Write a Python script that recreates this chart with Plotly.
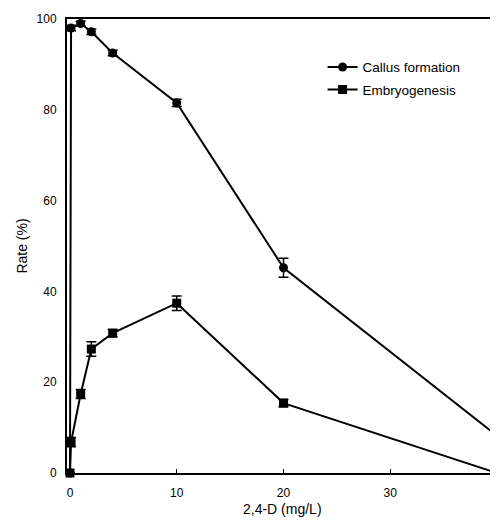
import plotly.graph_objects as go

conc = [0, 0.1, 1, 2, 4, 10, 20, 40]
callus = [0, 98, 99, 97.2, 92.5, 81.5, 45.2, 8.2]
callus_err = [0, 0.6, 0.5, 0.6, 0.6, 0.8, 2.1, 1.0]
embryo = [0, 6.8, 17.4, 27.3, 30.8, 37.4, 15.4, 0]
embryo_err = [0, 1.0, 1.0, 1.6, 0.8, 1.6, 0.8, 0]

y_ticks = [0, 20, 40, 60, 80, 100]
x_ticks = [0, 10, 20, 30, 40]

fig = go.Figure()
fig.add_trace(go.Scatter(
    x=conc, y=callus, name="Callus formation", mode="lines+markers", legendgroup="a",
    line=dict(color="black", width=2),
    marker=dict(symbol="circle", size=9, color="black"),
    error_y=dict(type="data", array=callus_err, color="black", thickness=1.5, width=5),
    cliponaxis=False,
))
fig.add_trace(go.Scatter(
    x=conc, y=embryo, name="Embryogenesis", mode="lines+markers", legendgroup="b",
    line=dict(color="black", width=2),
    marker=dict(symbol="square", size=9, color="black"),
    error_y=dict(type="data", array=embryo_err, color="black", thickness=1.5, width=5),
    cliponaxis=False,
))

fig.add_annotation(text="2,4-D (mg/L)", xref="paper", yref="paper", x=0.5, y=-0.079,
                   xanchor="center", yanchor="middle", showarrow=False,
                   font=dict(size=14))

fig.update_layout(
    width=490, height=512,
    margin=dict(l=59, r=0, t=11, b=47, autoexpand=False),
    paper_bgcolor="white", plot_bgcolor="white",
    font=dict(family="Liberation Sans, Arial, sans-serif", color="black", size=12),
    showlegend=True,
    legend=dict(x=0.593, y=0.928, xanchor="left", yanchor="top",
                bgcolor="rgba(0,0,0,0)", font=dict(size=13.5),
                itemwidth=30, tracegroupgap=2),
    xaxis=dict(range=[-0.28, 40.09], tickvals=x_ticks, ticktext=[str(v) for v in x_ticks],
               showgrid=False, zeroline=False, showline=True, linecolor="black", linewidth=2,
               mirror=True, ticks="inside", ticklen=4, tickcolor="black",
               ticklabelstandoff=8, automargin=False),
    yaxis=dict(range=[0, 100], tickvals=y_ticks, ticktext=[str(v) for v in y_ticks],
               showgrid=False, zeroline=False, showline=True, linecolor="black", linewidth=2,
               ticks="", ticklabelstandoff=6, automargin=False,
               title=dict(text="Rate (%)", font=dict(size=14), standoff=6)),
)

fig.write_html("out.html")
